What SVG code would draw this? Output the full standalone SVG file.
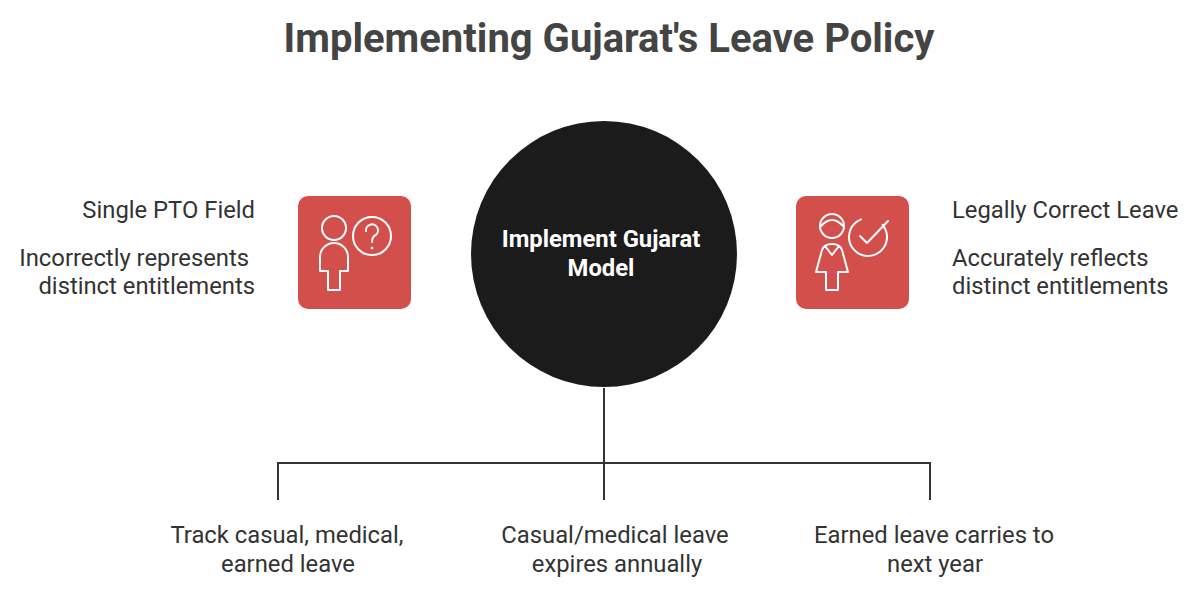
<svg xmlns="http://www.w3.org/2000/svg" width="1200" height="599" viewBox="0 0 1200 599">
<style>
text{font-family:Roboto,"Liberation Sans",sans-serif;fill:#333}
.t{font-size:23.8px}
.ic{fill:none;stroke:#fff;stroke-width:2;stroke-linejoin:round;stroke-linecap:round}
.box{fill:#d24f4c}
.ln{fill:none;stroke:#333;stroke-width:2}
</style>
<rect width="1200" height="599" fill="#fff"/>
<text x="609" y="52" text-anchor="middle" font-size="40" font-weight="bold" style="fill:#444">Implementing Gujarat's Leave Policy</text>
<g id="connectors">
<path class="ln" d="M604 388V500M278 500V463H930V500"/>
</g>
<g id="center">
<circle cx="604" cy="254" r="133" fill="#1b1b1b"/>
<text x="601" y="247" text-anchor="middle" font-size="23.8" font-weight="bold" style="fill:#fff">Implement Gujarat</text>
<text x="601" y="276" text-anchor="middle" font-size="23.8" font-weight="bold" style="fill:#fff">Model</text>
</g>
<g id="left">
<rect class="box" x="298" y="196" width="113" height="113" rx="10"/>
<circle class="ic" cx="334" cy="228" r="12"/>
<path class="ic" d="M328 290V271H320V257A14 14 0 0 1 348 257V271H340V290Z"/>
<circle class="ic" cx="372" cy="236" r="19"/>
<path class="ic" d="M366 231A6 6 0 1 1 374 236Q372 238 372 242"/>
<circle cx="372" cy="248" r="1.3" fill="#fff"/>
<text class="t" x="255" y="218" text-anchor="end">Single PTO Field</text>
<text class="t" x="249" y="266" text-anchor="end">Incorrectly represents</text>
<text class="t" x="255" y="294" text-anchor="end">distinct entitlements</text>
</g>
<g id="right">
<rect class="box" x="796" y="196" width="113" height="113" rx="10"/>
<circle class="ic" cx="832" cy="226" r="12"/>
<path class="ic" d="M821 226Q832 214 843 226"/>
<path class="ic" d="M826 290V272H816L822 250Q824 244 832 244Q840 244 842 250L848 272H838V290ZM825 246L832 255L839 246"/>
<circle class="ic" cx="868" cy="237" r="19" stroke-dasharray="95 25" transform="rotate(-40 868 237)"/>
<path class="ic" d="M860 236L867 243L888 221"/>
<text class="t" x="952" y="218">Legally Correct Leave</text>
<text class="t" x="952" y="266">Accurately reflects</text>
<text class="t" x="952" y="294">distinct entitlements</text>
</g>
<g id="b1"><text class="t" x="287" y="543" text-anchor="middle">Track casual, medical,</text><text class="t" x="288" y="572" text-anchor="middle">earned leave</text></g>
<g id="b2"><text class="t" x="615" y="543" text-anchor="middle">Casual/medical leave</text><text class="t" x="617" y="572" text-anchor="middle">expires annually</text></g>
<g id="b3"><text class="t" x="934" y="543" text-anchor="middle">Earned leave carries to</text><text class="t" x="935" y="572" text-anchor="middle">next year</text></g>
</svg>
